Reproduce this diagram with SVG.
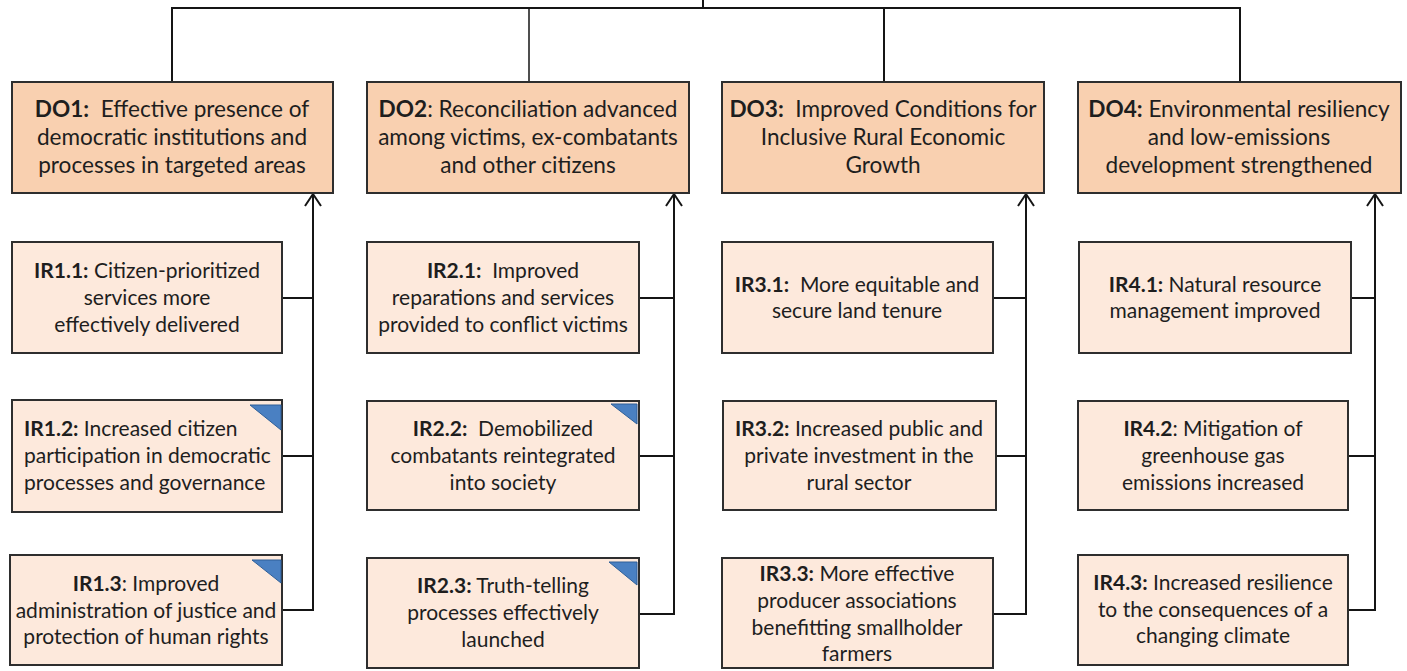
<svg xmlns="http://www.w3.org/2000/svg" width="1407" height="671" viewBox="0 0 1407 671">
<defs>
<style>
.do{fill:#f9d0b0;stroke:#2e2e2e;stroke-width:2}
.ir{fill:#fde9dc;stroke:#2e2e2e;stroke-width:2}
.tri{fill:#4a80c2;stroke:#2f5f98;stroke-width:1}
.t{font-family:Lato,"Liberation Sans",sans-serif;font-size:21px;fill:#1e1e1e;text-anchor:middle;white-space:pre}
.d{font-size:22.6px}
.l{text-anchor:start}
.b{font-weight:bold}
.c{fill:none;stroke:#151515;stroke-width:2}
</style>
<marker id="arr" viewBox="-14 -10 16 20" refX="0" refY="0" markerWidth="16" markerHeight="20" markerUnits="userSpaceOnUse" orient="auto">
<path d="M-12,-8 L0,0 L-12,8" fill="none" stroke="#151515" stroke-width="2"/>
</marker>
</defs>
<rect width="1407" height="671" fill="#ffffff"/>

<g id="connectors">
<path class="c" d="M703,0 V8 M172,82 V8 H1240 V82 M884,8 V82"/>
<path class="c" d="M529,8 V82" style="stroke-width:1.5"/>
<path class="c" d="M282,610 H313 V194" marker-end="url(#arr)"/>
<path class="c" d="M282,298 H313 M282,456 H313"/>
<path class="c" d="M639,614 H674 V194" marker-end="url(#arr)"/>
<path class="c" d="M639,298 H674 M639,456 H674"/>
<path class="c" d="M993,614 H1026 V194" marker-end="url(#arr)"/>
<path class="c" d="M993,298 H1026 M996,456 H1026"/>
<path class="c" d="M1348,610 H1375 V194" marker-end="url(#arr)"/>
<path class="c" d="M1351,298 H1375 M1348,456 H1375"/>
</g>

<g id="DO1">
<rect class="do" x="12" y="82" width="321" height="111"/>
<text class="t d" x="172" y="117"><tspan class="b">DO1:</tspan>  Effective presence of</text>
<text class="t d" x="172" y="145">democratic institutions and</text>
<text class="t d" x="172" y="173">processes in targeted areas</text>
</g>
<g id="DO2">
<rect class="do" x="367" y="82" width="322" height="111"/>
<text class="t d" x="528" y="117"><tspan class="b">DO2</tspan>: Reconciliation advanced</text>
<text class="t d" x="528" y="145">among victims, ex-combatants</text>
<text class="t d" x="528" y="173">and other citizens</text>
</g>
<g id="DO3">
<rect class="do" x="722" y="82" width="322" height="111"/>
<text class="t d" x="883" y="117"><tspan class="b">DO3:</tspan>  Improved Conditions for</text>
<text class="t d" x="883" y="145">Inclusive Rural Economic</text>
<text class="t d" x="883" y="173">Growth</text>
</g>
<g id="DO4">
<rect class="do" x="1078" y="82" width="323" height="111"/>
<text class="t d" x="1239" y="117"><tspan class="b">DO4:</tspan> Environmental resiliency</text>
<text class="t d" x="1239" y="145">and low-emissions</text>
<text class="t d" x="1239" y="173">development strengthened</text>
</g>

<g id="IR1.1">
<rect class="ir" x="12" y="242" width="270" height="111"/>
<text class="t" x="147" y="278"><tspan class="b">IR1.1:</tspan> Citizen-prioritized</text>
<text class="t" x="147" y="305">services more</text>
<text class="t" x="147" y="332">effectively delivered</text>
</g>
<g id="IR1.2">
<rect class="ir" x="12" y="400" width="270" height="112"/>
<polygon class="tri" points="250,405 281,405 281,430"/>
<text class="t l" x="24" y="436"><tspan class="b">IR1.2:</tspan> Increased citizen</text>
<text class="t l" x="24" y="463">participation in democratic</text>
<text class="t l" x="24" y="490">processes and governance</text>
</g>
<g id="IR1.3">
<rect class="ir" x="10" y="555" width="272" height="110"/>
<polygon class="tri" points="252,560 281,560 281,583"/>
<text class="t" x="146" y="591"><tspan class="b">IR1.3</tspan>: Improved</text>
<text class="t" x="146" y="618">administration of justice and</text>
<text class="t" x="146" y="644">protection of human rights</text>
</g>

<g id="IR2.1">
<rect class="ir" x="367" y="242" width="272" height="111"/>
<text class="t" x="503" y="278"><tspan class="b">IR2.1:</tspan>  Improved</text>
<text class="t" x="503" y="305">reparations and services</text>
<text class="t" x="503" y="332">provided to conflict victims</text>
</g>
<g id="IR2.2">
<rect class="ir" x="367" y="401" width="272" height="109"/>
<polygon class="tri" points="611,404 637,404 637,424"/>
<text class="t" x="503" y="436"><tspan class="b">IR2.2:</tspan>  Demobilized</text>
<text class="t" x="503" y="463">combatants reintegrated</text>
<text class="t" x="503" y="490">into society</text>
</g>
<g id="IR2.3">
<rect class="ir" x="367" y="558" width="272" height="110"/>
<polygon class="tri" points="609,562 637,562 637,585"/>
<text class="t" x="503" y="593"><tspan class="b">IR2.3:</tspan> Truth-telling</text>
<text class="t" x="503" y="620">processes effectively</text>
<text class="t" x="503" y="647">launched</text>
</g>

<g id="IR3.1">
<rect class="ir" x="722" y="242" width="271" height="111"/>
<text class="t" x="857" y="292"><tspan class="b">IR3.1:</tspan>  More equitable and</text>
<text class="t" x="857" y="318">secure land tenure</text>
</g>
<g id="IR3.2">
<rect class="ir" x="723" y="401" width="273" height="109"/>
<text class="t" x="859" y="436"><tspan class="b">IR3.2:</tspan> Increased public and</text>
<text class="t" x="859" y="463">private investment in the</text>
<text class="t" x="859" y="490">rural sector</text>
</g>
<g id="IR3.3">
<rect class="ir" x="722" y="558" width="271" height="110"/>
<text class="t" x="857" y="581"><tspan class="b">IR3.3:</tspan> More effective</text>
<text class="t" x="857" y="608">producer associations</text>
<text class="t" x="857" y="635">benefitting smallholder</text>
<text class="t" x="857" y="661">farmers</text>
</g>

<g id="IR4.1">
<rect class="ir" x="1079" y="242" width="272" height="111"/>
<text class="t" x="1215" y="292"><tspan class="b">IR4.1:</tspan> Natural resource</text>
<text class="t" x="1215" y="318">management improved</text>
</g>
<g id="IR4.2">
<rect class="ir" x="1078" y="401" width="270" height="109"/>
<text class="t" x="1213" y="436"><tspan class="b">IR4.2</tspan>: Mitigation of</text>
<text class="t" x="1213" y="463">greenhouse gas</text>
<text class="t" x="1213" y="490">emissions increased</text>
</g>
<g id="IR4.3">
<rect class="ir" x="1078" y="555" width="270" height="110"/>
<text class="t" x="1213" y="590"><tspan class="b">IR4.3:</tspan> Increased resilience</text>
<text class="t" x="1213" y="617">to the consequences of a</text>
<text class="t" x="1213" y="643">changing climate</text>
</g>
</svg>
